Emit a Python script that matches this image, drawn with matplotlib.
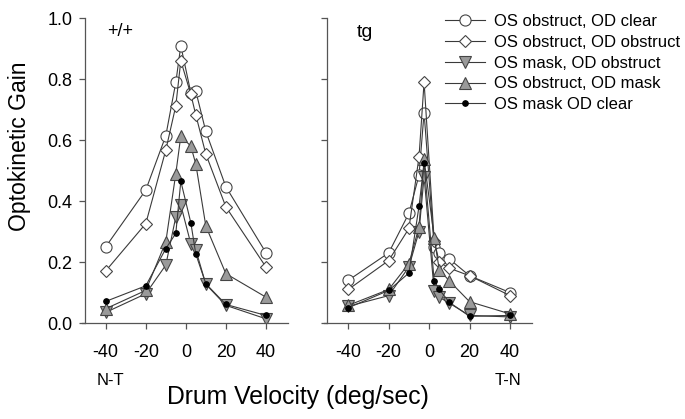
import matplotlib
matplotlib.use("Agg")
import matplotlib.pyplot as plt
from matplotlib.lines import Line2D

plt.rcParams['font.family'] = ['Liberation Sans', 'DejaVu Sans']
plt.rcParams['axes.unicode_minus'] = False

velocity = [-40, -20, -10, -5, -2.5, 2.5, 5, 10, 20, 40]

labels = ["OS obstruct, OD clear", "OS obstruct, OD obstruct",
          "OS mask, OD obstruct", "OS obstruct, OD mask", "OS mask OD clear"]

# +/+ panel
wt_obs_clear = [0.25, 0.436, 0.614, 0.789, 0.909, 0.755, 0.76, 0.628, 0.447, 0.231]
wt_obs_obs = [0.171, 0.326, 0.567, 0.712, 0.86, 0.75, 0.682, 0.554, 0.381, 0.184]
wt_mask_obs = [0.035, 0.096, 0.19, 0.348, 0.387, 0.26, 0.24, 0.127, 0.058, 0.014]
wt_obs_mask = [0.047, 0.107, 0.266, 0.49, 0.613, 0.58, 0.521, 0.318, 0.162, 0.085]
wt_mask_clear = [0.071, 0.122, 0.244, 0.294, 0.465, 0.329, 0.226, 0.129, 0.061, 0.025]

# tg panel
tg_obs_clear = [0.14, 0.23, 0.36, 0.485, 0.69, 0.25, 0.23, 0.21, 0.155, 0.10]
tg_obs_obs = [0.11, 0.205, 0.31, 0.545, 0.79, 0.27, 0.20, 0.18, 0.155, 0.09]
tg_mask_obs = [0.055, 0.09, 0.184, 0.30, 0.48, 0.105, 0.085, 0.065, 0.025, 0.02]
tg_obs_mask = [0.058, 0.11, 0.195, 0.315, 0.537, 0.28, 0.175, 0.138, 0.07, 0.03]
tg_mask_clear = [0.05, 0.107, 0.164, 0.383, 0.524, 0.138, 0.11, 0.068, 0.022, 0.025]

xticks = [-40, -20, 0, 20, 40]
yticks = [0.0, 0.2, 0.4, 0.6, 0.8, 1.0]

line_c = '#3a3a3a'
edge_c = '#454545'
gray_fill = '#9a9a9a'

styles = [
    dict(marker='o', ms=8, mfc='white', mec=edge_c),
    dict(marker='D', ms=6, mfc='white', mec=edge_c),
    dict(marker='v', ms=8, mfc=gray_fill, mec=edge_c),
    dict(marker='^', ms=8, mfc=gray_fill, mec=edge_c),
    dict(marker='o', ms=4, mfc='black', mec='black'),
]

fig = plt.figure(figsize=(6.85, 4.19), dpi=100)
ax1 = fig.add_axes([0.1193, 0.229, 0.301, 0.728])
ax2 = fig.add_axes([0.473, 0.229, 0.304, 0.728])

spine_c = '#555555'
for ax, series in ((ax1, [wt_obs_clear, wt_obs_obs, wt_mask_obs, wt_obs_mask, wt_mask_clear]),
                   (ax2, [tg_obs_clear, tg_obs_obs, tg_mask_obs, tg_obs_mask, tg_mask_clear])):
    for ys, st in zip(series, styles):
        ax.plot(velocity, ys, color=line_c, lw=0.8, mew=0.8, **st)
    ax.set_xlim(-52, 51)
    ax.set_ylim(0, 1.0)
    ax.set_xticks(xticks)
    ax.set_yticks(yticks)
    ax.spines['top'].set_visible(False)
    ax.spines['right'].set_visible(False)
    ax.spines['left'].set_position(('data', -50.5))
    for s in ('left', 'bottom'):
        ax.spines[s].set_color(spine_c)
        ax.spines[s].set_linewidth(0.9)
    ax.tick_params(direction='out', length=4, width=0.9, color=spine_c,
                   labelsize=13, pad=5)
    ax.tick_params(axis='x', pad=11)

ax1.set_yticklabels([f"{v:.1f}" for v in yticks])
ax2.set_yticklabels([])

ax1.text(-39.5, 0.955, "+/+", fontsize=13, va='center', ha='left')
ax2.text(-35.7, 0.952, "tg", fontsize=14, va='center', ha='left')

fig.text(20/685, 1 - 146/419, "Optokinetic Gain", rotation=90, fontsize=16.6,
         ha='center', va='center')
fig.text(298/685, 1 - 397/419, "Drum Velocity (deg/sec)", fontsize=17.8,
         ha='center', va='center')
fig.text(97/685, 1 - 380/419, "N-T", fontsize=12, ha='left', va='center')
fig.text(495/685, 1 - 380/419, "T-N", fontsize=12, ha='left', va='center')

handles = [Line2D([], [], color=line_c, lw=0.8, mew=0.8, **st) for st in styles]
fig.legend(handles, labels, loc='upper left', bbox_to_anchor=(445/685, 1 - 14/419),
           frameon=False, fontsize=12, borderpad=0, borderaxespad=0,
           handlelength=2.4, handletextpad=0.54, labelspacing=0.35)

fig.savefig("out.png", dpi=100)
